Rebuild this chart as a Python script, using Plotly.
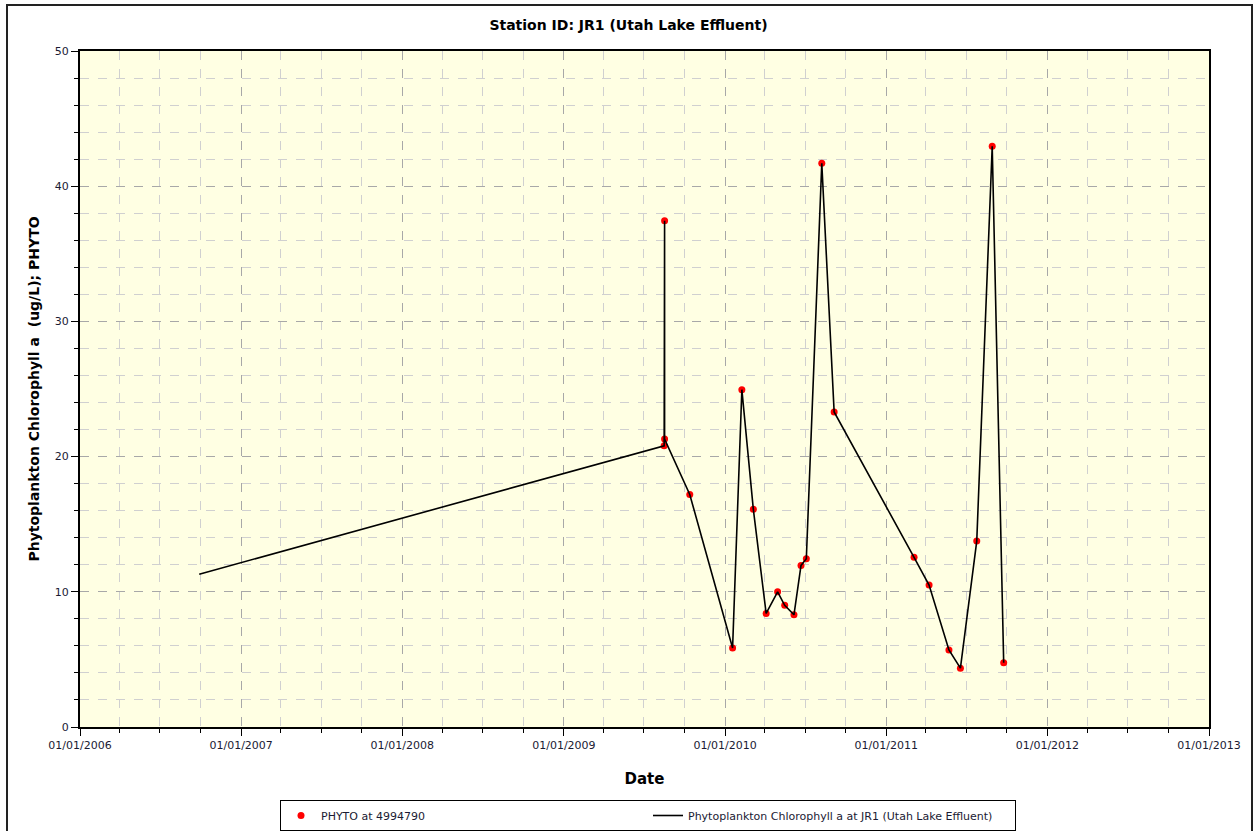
import plotly.graph_objects as go

# Observed samples (red markers)
point_dates = [
    "2009-08-16", "2009-08-17", "2009-08-17", "2009-10-13",
    "2010-01-18", "2010-02-08", "2010-03-06", "2010-04-04",
    "2010-04-30", "2010-05-16", "2010-06-06", "2010-06-22",
    "2010-07-04", "2010-08-08", "2010-09-05",
    "2011-03-05", "2011-04-08", "2011-05-23", "2011-06-18",
    "2011-07-25", "2011-08-29", "2011-09-24",
]
point_values = [
    20.8, 37.45, 21.3, 17.2,
    5.85, 24.95, 16.1, 8.4,
    10.0, 9.0, 8.3, 11.95,
    12.45, 41.7, 23.3,
    12.55, 10.5, 5.7, 4.35,
    13.75, 42.95, 4.75,
]

# Line series (starts earlier, then follows samples)
line_dates = ["2006-09-28"] + point_dates
line_values = [11.3] + point_values

x_range = ["2006-01-01", "2013-01-01"]
y_range = [0, 50]

FONT = "DejaVu Sans"
W, H = 1257, 831
L, R, T, B = 80, 48, 51, 104
PW, PH = W - L - R, H - T - B

fig = go.Figure()
fig.add_trace(go.Scatter(
    x=point_dates, y=point_values, mode="markers",
    name="PHYTO at 4994790",
    marker=dict(color="#ff0000", size=7),
))
fig.add_trace(go.Scatter(
    x=line_dates, y=line_values, mode="lines",
    name="Phytoplankton Chlorophyll a at JR1 (Utah Lake Effluent)",
    line=dict(color="black", width=1.6),
))

fig.update_layout(
    width=W, height=H,
    margin=dict(l=L, r=R, t=T, b=B, autoexpand=False),
    paper_bgcolor="white",
    plot_bgcolor="#FFFFE3",
    font=dict(family=FONT, size=11, color="#1a1a33"),
    title=dict(text="<b>Station ID: JR1 (Utah Lake Effluent)</b>",
               x=0.5, xanchor="center", y=1 - 25 / H, yanchor="middle",
               font=dict(family=FONT, size=14, color="black")),
    showlegend=True,
    legend=dict(
        orientation="h", x=(280 - L) / PW, xanchor="left",
        y=(H - B - 800) / PH, yanchor="top",
        bordercolor="black", borderwidth=1, bgcolor="white",
        font=dict(family=FONT, size=11, color="#1a1a33"),
        entrywidth=322, entrywidthmode="pixels",
        itemwidth=30,
    ),
)

fig.update_xaxes(
    type="date", range=x_range, automargin=False,
    dtick="M12", tick0="2006-01-01", tickformat="%m/%d/%Y",
    ticks="outside", ticklen=7, tickcolor="black",
    showline=True, linecolor="black", linewidth=2, mirror=True,
    showgrid=True, gridcolor="#a8a8a8", griddash="dash", gridwidth=1.2,
    minor=dict(dtick="M3", ticks="outside", ticklen=4, tickcolor="black",
               showgrid=True, gridcolor="#d0d0d0", griddash="dash"),
    tickfont=dict(family=FONT, size=11, color="#1a1a33"),
    title=dict(text="<b>Date</b>", standoff=22,
               font=dict(family=FONT, size=15, color="black")),
    zeroline=False,
)
fig.update_yaxes(
    range=y_range, dtick=10, tick0=0, automargin=False,
    ticks="outside", ticklen=7, tickcolor="black",
    showline=True, linecolor="black", linewidth=2, mirror=True,
    showgrid=True, gridcolor="#a8a8a8", griddash="dash", gridwidth=1.2,
    minor=dict(dtick=2, ticks="outside", ticklen=4, tickcolor="black",
               showgrid=True, gridcolor="#d0d0d0", griddash="dash"),
    tickfont=dict(family=FONT, size=11, color="#1a1a33"),
    title=dict(text="<b>Phytoplankton Chlorophyll a  (ug/L); PHYTO</b>",
               standoff=12, font=dict(family=FONT, size=14, color="black")),
    zeroline=False,
)

# outer frame around the whole chart
fig.add_shape(type="rect", xref="paper", yref="paper",
              x0=(7 - L) / PW, x1=(1252 - L) / PW,
              y0=(H - B - 834) / PH, y1=(H - B - 5) / PH,
              line=dict(color="#222222", width=2), layer="below")

fig.write_html(
    "out.html",
    config={"displayModeBar": False},
    post_script="document.body.style.margin='0';document.body.style.overflow='hidden';",
)
